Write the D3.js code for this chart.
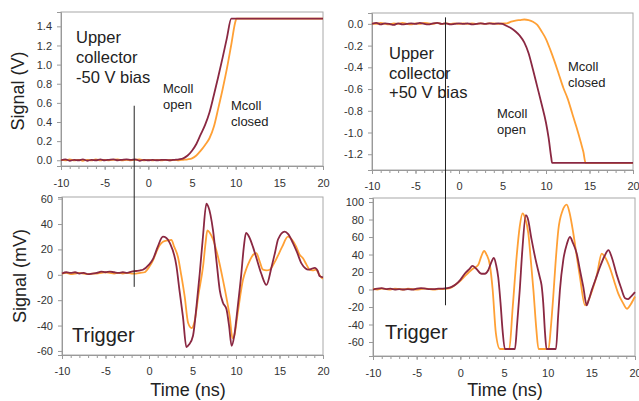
<!DOCTYPE html>
<head>
    <meta charset="utf-8" />
    <script src="https://d3js.org/d3.v7.min.js"></script>
    <style>
        body { margin: 0; background: #fff; }
        svg text { font-family: Arial, "Liberation Sans", sans-serif; fill: #222; }
        .tick text { font-size: 11px; fill: #333; }
    </style>
    <title>Signals</title>
</head>

<body>
    <script>
        // ---- data: [time (ns), value] ----
        var tlOpen = [[-10,0],[-9.5,0.01],[-9,-0.005],[-8.5,0.005],[-8,0],[-7.5,0.01],[-7,-0.005],[-6.5,0.005],[-6,0],[-5.5,0.01],[-5,0],
            [-4.5,0.005],[-4,0.01],[-3.5,0],[-3,0.005],[-2.5,0.01],[-2,0.005],[-1.5,0.01],[-1,-0.005],[-0.5,0.005],[0,0],[0.5,0.005],[1,0],
            [1.5,0.005],[2,0.005],[2.5,0],[3,0.005],[3.5,0.01],[4,0.02],[4.5,0.05],[5,0.1],[5.5,0.17],[6,0.27],[6.5,0.37],[7,0.5],
            [7.5,0.68],[8,0.87],[8.5,1.07],[9,1.28],[9.5,1.48],[20,1.48]];
        var tlClosed = [[-10,0.005],[-9.5,0],[-9,0.01],[-8.5,0],[-8,0.005],[-7.5,-0.005],[-7,0.005],[-6.5,0],[-6,0.01],[-5.5,0],[-5,0.005],
            [-4.5,0],[-4,0.005],[-3.5,0.01],[-3,0],[-2.5,0.005],[-2,0],[-1.5,0.005],[-1,0.01],[-0.5,0],[0,0.005],[0.5,0],[1,0.005],
            [1.5,0],[2,0.005],[2.5,0],[3,0.005],[3.5,0],[4,0.005],[4.5,0.01],[5,0.02],[5.5,0.05],[6,0.1],[6.5,0.16],[7,0.23],
            [7.5,0.35],[8,0.54],[8.5,0.74],[9,0.96],[9.5,1.21],[10,1.46],[10.1,1.48],[20,1.48]];

        var trOpen = [[-10,0],[-9.5,0.01],[-9,-0.005],[-8.5,0.005],[-8,0],[-7.5,-0.01],[-7,0.005],[-6.5,-0.005],[-6,0],[-5.5,0.005],[-5,0],
            [-4.5,0.01],[-4,0],[-3.5,-0.005],[-3,0.005],[-2.5,0.01],[-2,0],[-1.5,0.005],[-1,-0.005],[-0.5,0],[0,0.005],[0.5,0],[1,0.005],
            [1.5,-0.005],[2,0],[2.5,0.005],[3,0],[3.5,0.005],[4,0],[4.5,0.005],[5,0],[5.5,-0.02],[6,-0.04],[6.5,-0.07],[7,-0.11],
            [7.5,-0.17],[8,-0.27],[8.5,-0.42],[9,-0.58],[9.5,-0.74],[10,-0.91],[10.3,-1.05],[10.6,-1.23],[10.7,-1.28],[20,-1.28]];
        var trClosed = [[-10,0.005],[-9.5,0],[-9,0.01],[-8.5,0],[-8,-0.005],[-7.5,0.005],[-7,0],[-6.5,0.01],[-6,0],[-5.5,-0.005],[-5,0.005],
            [-4.5,0],[-4,0.01],[-3.5,0.005],[-3,0],[-2.5,0.01],[-2,0],[-1.5,0.005],[-1,0],[-0.5,0.005],[0,0],[0.5,0.005],[1,0],
            [1.5,0.005],[2,0],[2.5,0.005],[3,0],[3.5,0.005],[4,0.005],[4.5,0],[5,0.005],[5.5,0.005],[6,0.02],[6.5,0.03],[7,0.035],
            [7.5,0.04],[8,0.035],[8.5,0.02],[9,-0.01],[9.5,-0.07],[10,-0.14],[10.5,-0.24],[11,-0.35],[11.5,-0.47],[12,-0.59],
            [12.5,-0.69],[13,-0.82],[13.5,-0.95],[14,-1.09],[14.3,-1.18],[14.55,-1.28],[20,-1.28]];

        var blOpen = [[-10,1],[-9.5,2],[-9,1.5],[-8.5,2],[-8,1],[-7.5,1.5],[-7,0.5],[-6.5,1],[-6,1.5],[-5.5,2.5],[-5,2],[-4.5,2.5],
            [-4,2],[-3.5,1.5],[-3,2],[-2.5,1.5],[-2,2.5],[-1.5,3],[-1,3.5],[-0.7,4],[0,8],[0.5,13],[1,22],[1.6,30],[2,29],[2.4,25],
            [3.15,7],[3.5,-12],[3.9,-33],[4.3,-57],[4.6,-55],[5.06,-48],[5.5,-22],[5.83,1],[6.2,30],[6.6,56],[6.8,54],[7.36,35],
            [7.8,8],[8.13,-12],[8.5,-22],[8.9,-27],[9.2,-40],[9.5,-56],[9.8,-48],[10.2,-25],[10.6,0],[10.9,22],[11.15,33],[11.5,30],
            [11.95,22],[12.4,12],[12.9,1],[13.5,-8],[14.08,6],[14.5,18],[14.84,28],[15.6,34],[16,32],[16.55,25],[17,18],[17.52,9],
            [18,5],[18.28,4],[18.6,4.5],[19.05,5.5],[19.4,3],[19.6,-1],[20,-2]];
        var blClosed = [[-10,1],[-9.5,1.5],[-9,0.5],[-8.5,1],[-8,1.5],[-7.5,1],[-7,0.5],[-6.5,1],[-6,1],[-5.5,1.5],[-5,2],[-4.5,1.5],
            [-4,1],[-3.5,1.5],[-3,1],[-2.5,1.5],[-2,1],[-1.5,1],[-1,1.5],[-0.5,2],[0,6],[0.5,12],[0.85,18],[1.2,23],[1.61,26],
            [2.1,27],[2.57,27.5],[2.9,22],[3.33,14],[3.7,0],[4.1,-17],[4.5,-38],[4.9,-42],[5.26,-36],[5.7,-15],[6.22,7],[6.5,25],
            [6.71,35],[7,33],[7.36,28],[7.9,15],[8.5,-4],[8.9,-18],[9.28,-33],[9.6,-50],[9.8,-48],[10.2,-30],[10.8,-4],[11.2,5],
            [11.57,11],[12,16],[12.34,17],[12.7,11],[13.1,4],[13.5,3.5],[13.87,4],[14.2,7],[14.6,12],[15.3,22],[15.97,30],[16.4,28],
            [16.93,22],[17.3,16],[17.7,13],[18.1,8],[18.46,4],[18.8,3.5],[19.2,4],[19.5,1],[19.8,-2],[20,-3]];

        var brOpen = [[-10,0],[-9.5,1],[-9,1.5],[-8.5,0.5],[-8,1],[-7.5,0],[-7,0.5],[-6.5,0],[-6,0.5],[-5.5,0],[-5,1],[-4.5,1.5],
            [-4,1],[-3.5,0.5],[-3,0.5],[-2.5,1],[-2,1],[-1.5,1.5],[-1,3],[-0.5,6],[0,11],[0.5,18],[1,23],[1.4,27],[1.8,24],[2.43,18],
            [2.8,18],[3.19,22],[3.5,30],[3.84,36],[4.1,28],[4.34,14],[4.6,-15],[4.84,-47],[5.1,-68],[6.25,-68],[6.5,-40],[6.8,-1],
            [7.1,45],[7.5,85],[7.7,82],[8.16,57],[8.6,35],[9.1,14],[9.3,5],[9.49,-15],[9.7,-50],[9.87,-68],[10.95,-68],[11.2,-30],
            [11.4,-1],[11.79,34],[12.2,52],[12.55,60],[12.9,53],[13.33,41],[13.7,22],[14.08,3],[14.47,-18],[14.7,-12],[15.04,-1],
            [15.5,12],[16,26],[16.5,38],[16.96,45],[17.3,38],[17.9,17],[18.4,2],[18.87,-10],[19.2,-11],[19.45,-9],[20,-3]];
        var brClosed = [[-10,1],[-9.5,0],[-9,1],[-8.5,0.5],[-8,0],[-7.5,1],[-7,0.5],[-6.5,0],[-6,1],[-5.5,0.5],[-5,0],[-4.5,0.5],
            [-4,1],[-3.5,0.5],[-3,0],[-2.5,0.5],[-2,0.5],[-1.5,1],[-1,2.5],[-0.5,6],[0,10],[0.5,15],[1,20],[1.47,24],[2.04,28],
            [2.4,38],[2.73,44],[3,40],[3.38,28],[3.7,0],[4.07,-50],[4.53,-68],[5.6,-68],[6,-20],[6.45,38],[6.8,72],[7.13,87],
            [7.4,82],[7.79,64],[8.1,30],[8.37,-1],[8.7,-45],[8.95,-68],[10.1,-68],[10.35,-45],[10.64,-8],[10.9,30],[11.22,68],
            [11.7,90],[12.18,97],[12.5,88],[12.94,64],[13.3,40],[13.7,14],[14.28,-18],[14.5,-16],[14.85,-8],[15.2,2],[15.62,16],
            [16.19,41],[16.5,38],[17.15,24],[17.6,10],[18.1,-5],[18.6,-15],[19.08,-22],[19.5,-17],[20,-8]];

        var xTicks = [-10, -5, 0, 5, 10, 15, 20];
        var tlTicks = [0, 0.2, 0.4, 0.6, 0.8, 1.0, 1.2, 1.4];
        var trTicks = [0, -0.2, -0.4, -0.6, -0.8, -1.0, -1.2];
        var blTicks = [-60, -40, -20, 0, 20, 40, 60];
        var brTicks = [-60, -40, -20, 0, 20, 40, 60, 80, 100];
        var triggerTime = -1.7;

        var maroon = "#8a2842", orange = "#ffa035";

        // plain hyphen for negative numbers, like the original
        var loc = d3.formatLocale({decimal: ".", thousands: ",", grouping: [3], currency: ["", ""], minus: "-"});

        var svg = d3.select("body").append("svg")
            .attr("width", 639).attr("height", 401);

        function panel(p) {
            var x = d3.scaleLinear().domain([-10, 20]).range([p.left, p.right]);
            var y = d3.scaleLinear().domain(p.yDomain).range([p.bottom, p.top]);
            var g = svg.append("g");

            g.append("rect")
                .attr("x", p.left).attr("y", p.top)
                .attr("width", p.right - p.left).attr("height", p.bottom - p.top)
                .attr("fill", "none").attr("stroke", "#a8a8a8");

            // minor ticks every ns
            g.append("g").attr("transform", "translate(0," + p.bottom + ")")
                .call(d3.axisBottom(x).tickValues(d3.range(-10, 21, 1)).tickSize(3).tickFormat(""))
                .call(a => a.select(".domain").remove())
                .selectAll("line").attr("stroke", "#999");
            g.append("g").attr("transform", "translate(0," + p.bottom + ")")
                .call(d3.axisBottom(x).tickValues(xTicks).tickSize(4).tickPadding(p.xPad).tickFormat(loc.format("d")))
                .call(a => a.select(".domain").attr("stroke", "#999"))
                .selectAll("line").attr("stroke", "#999");
            g.append("g").attr("transform", "translate(" + p.left + ",0)")
                .call(d3.axisLeft(y).tickValues(p.yTicks).tickSize(4).tickPadding(5).tickFormat(loc.format(p.fmt)))
                .call(a => a.select(".domain").attr("stroke", "#999"))
                .selectAll("line").attr("stroke", "#999");

            var line = d3.line()
                .x(d => x(d[0])).y(d => y(d[1]))
                .curve(d3.curveMonotoneX);
            g.append("path").datum(p.closed).attr("d", line)
                .attr("fill", "none").attr("stroke", orange).attr("stroke-width", 1.8);
            g.append("path").datum(p.open).attr("d", line)
                .attr("fill", "none").attr("stroke", maroon).attr("stroke-width", 1.8);

            p.x = x; p.y = y;
            return p;
        }

        var tl = panel({left: 61, right: 323, top: 12, bottom: 166, yDomain: [-0.06, 1.55], yTicks: tlTicks,
            fmt: ".1f", xPad: 9, open: tlOpen, closed: tlClosed});
        var tr = panel({left: 372, right: 633, top: 13, bottom: 170, yDomain: [-1.345, 0.1], yTicks: trTicks,
            fmt: ".1f", xPad: 8, open: trOpen, closed: trClosed});
        var bl = panel({left: 62, right: 323, top: 197, bottom: 355, yDomain: [-63.2, 61.3], yTicks: blTicks,
            fmt: "d", xPad: 8, open: blOpen, closed: blClosed});
        var br = panel({left: 373, right: 635, top: 198, bottom: 356, yDomain: [-76, 104.6], yTicks: brTicks,
            fmt: "d", xPad: 9, open: brOpen, closed: brClosed});

        // trigger lines through both panels
        svg.append("line")
            .attr("x1", bl.x(triggerTime)).attr("x2", bl.x(triggerTime))
            .attr("y1", tl.y(0.57)).attr("y2", bl.y(-9.5))
            .attr("stroke", "#222").attr("stroke-width", 1);
        svg.append("line")
            .attr("x1", br.x(triggerTime)).attr("x2", br.x(triggerTime))
            .attr("y1", tr.y(0.06)).attr("y2", br.y(-18))
            .attr("stroke", "#222").attr("stroke-width", 1);

        function label(lines, x, y, size, gap) {
            var t = svg.append("text").attr("x", x).attr("y", y).style("font-size", size + "px");
            lines.forEach((s, i) => t.append("tspan").attr("x", x).attr("dy", i ? gap : 0).text(s));
        }
        label(["Upper", "collector", "-50 V bias"], 76, 43, 16.5, 20);
        label(["Mcoll", "open"], 163, 93, 13, 16);
        label(["Mcoll", "closed"], 231, 110, 13, 16);
        label(["Upper", "collector", "+50 V bias"], 389, 59, 16.5, 19.5);
        label(["Mcoll", "closed"], 568, 71, 13, 16);
        label(["Mcoll", "open"], 497, 118, 13, 16);
        label(["Trigger"], 72, 342, 20, 0);
        label(["Trigger"], 385, 339, 20, 0);

        svg.append("text").attr("transform", "translate(24,91) rotate(-90)")
            .attr("text-anchor", "middle").style("font-size", "18px").text("Signal (V)");
        svg.append("text").attr("transform", "translate(26,276) rotate(-90)")
            .attr("text-anchor", "middle").style("font-size", "18px").text("Signal (mV)");
        svg.append("text").attr("x", 188).attr("y", 396)
            .attr("text-anchor", "middle").style("font-size", "18px").text("Time (ns)");
        svg.append("text").attr("x", 505).attr("y", 396)
            .attr("text-anchor", "middle").style("font-size", "18px").text("Time (ns)");
    </script>
</body>
